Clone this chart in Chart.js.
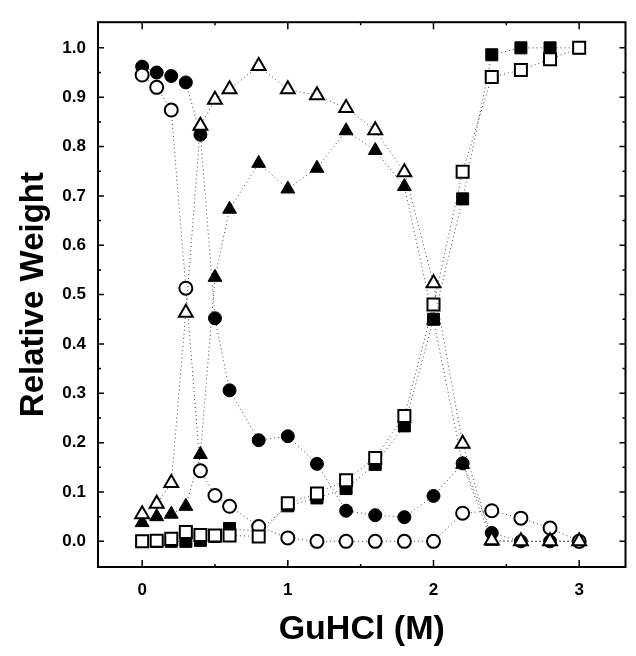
<!DOCTYPE html>
<html>
<head>
<meta charset="utf-8">
<script src="https://cdn.jsdelivr.net/npm/chart.js@4/dist/chart.umd.min.js"></script>
<style>
  html, body { margin: 0; padding: 0; background: #fff; }
  #wrap { width: 636px; height: 656px; }
</style>
</head>
<body>
<div id="wrap"><canvas id="chart"></canvas></div>
<script>
// GuHCl concentration (M)
const conc = [0, 0.1, 0.2, 0.3, 0.4, 0.5, 0.6, 0.8, 1.0, 1.2, 1.4, 1.6, 1.8, 2.0, 2.2, 2.4, 2.6, 2.8, 3.0];

const filledCircle   = [0.962, 0.950, 0.943, 0.930, 0.824, 0.452, 0.306, 0.205, 0.213, 0.157, 0.062, 0.053, 0.049, 0.092, 0.158, 0.017, 0.0, 0.0, 0.0];
const openCircle     = [0.945, 0.920, 0.874, 0.513, 0.143, 0.093, 0.071, 0.030, 0.007, 0.0, 0.0, 0.0, 0.0, 0.0, 0.057, 0.062, 0.047, 0.027, 0.0];
const filledTriangle = [0.038, 0.050, 0.055, 0.071, 0.176, 0.535, 0.673, 0.766, 0.714, 0.756, 0.832, 0.792, 0.719, 0.448, 0.156, 0.0, 0.0, 0.0, 0.0];
const openTriangle   = [0.055, 0.076, 0.118, 0.463, 0.842, 0.895, 0.916, 0.963, 0.916, 0.904, 0.878, 0.833, 0.748, 0.523, 0.198, 0.002, 0.0, 0.0, 0.0];
const filledSquare   = [0.0, 0.0, 0.0, 0.0, 0.002, 0.010, 0.026, 0.020, 0.072, 0.088, 0.107, 0.156, 0.234, 0.450, 0.694, 0.986, 1.0, 1.0, 1.0];
const openSquare     = [0.0, 0.001, 0.005, 0.019, 0.013, 0.012, 0.012, 0.010, 0.077, 0.097, 0.124, 0.169, 0.254, 0.480, 0.749, 0.941, 0.955, 0.977, 1.0];

const xTicks = [0, 1, 2, 3];
const yTicks = [0.0, 0.1, 0.2, 0.3, 0.4, 0.5, 0.6, 0.7, 0.8, 0.9, 1.0];

Chart.defaults.font.family = '"Liberation Sans", Arial, Helvetica, sans-serif';
Chart.defaults.color = '#000';

const toPoints = (vals) => vals.map((v, i) => ({ x: conc[i], y: v }));

function series(vals, style, radius, filled) {
  return {
    data: toPoints(vals),
    showLine: true,
    borderColor: '#444',
    borderWidth: 1,
    borderDash: [1, 3],
    pointStyle: style,
    pointRadius: radius,
    pointBackgroundColor: filled ? '#000' : '#fff',
    pointBorderColor: '#000',
    pointBorderWidth: filled ? 1 : 2
  };
}

// dataset 0 is drawn on top
const datasets = [
  series(openTriangle, 'triangle', 8, false),
  series(openSquare, 'rect', 8.5, false),
  series(openCircle, 'circle', 6.5, false),
  series(filledCircle, 'circle', 6.5, true),
  series(filledSquare, 'rect', 8.5, true),
  series(filledTriangle, 'triangle', 8, true)
];

// frame + inward ticks on all four sides
const frameTicks = {
  id: 'frameTicks',
  afterDraw(chart) {
    const { ctx, chartArea: a, scales: { x, y } } = chart;
    ctx.save();
    ctx.strokeStyle = '#000';
    ctx.lineWidth = 2;
    ctx.strokeRect(a.left, a.top, a.right - a.left, a.bottom - a.top);
    ctx.lineWidth = 1.5;
    ctx.beginPath();
    yTicks.forEach((v, i) => {
      const py = y.getPixelForValue(v);
      ctx.moveTo(a.left, py); ctx.lineTo(a.left + 6, py);
      ctx.moveTo(a.right, py); ctx.lineTo(a.right - 6, py);
      if (i < yTicks.length - 1) {
        const my = y.getPixelForValue((v + yTicks[i + 1]) / 2);
        ctx.moveTo(a.left, my); ctx.lineTo(a.left + 3, my);
        ctx.moveTo(a.right, my); ctx.lineTo(a.right - 3, my);
      }
    });
    xTicks.forEach((v, i) => {
      const px = x.getPixelForValue(v);
      ctx.moveTo(px, a.bottom); ctx.lineTo(px, a.bottom - 7);
      ctx.moveTo(px, a.top); ctx.lineTo(px, a.top + 7);
      if (i < xTicks.length - 1) {
        const mx = x.getPixelForValue((v + xTicks[i + 1]) / 2);
        ctx.moveTo(mx, a.bottom); ctx.lineTo(mx, a.bottom - 3);
        ctx.moveTo(mx, a.top); ctx.lineTo(mx, a.top + 3);
      }
    });
    ctx.stroke();
    ctx.restore();
  }
};

new Chart(document.getElementById('chart'), {
  type: 'scatter',
  data: { datasets },
  options: {
    responsive: true,
    maintainAspectRatio: false,
    animation: false,
    layout: { padding: { top: 13, right: 1, left: 0, bottom: 0 } },
    plugins: { legend: { display: false }, tooltip: { enabled: false } },
    scales: {
      x: {
        type: 'linear',
        min: -0.303,
        max: 3.318,
        afterBuildTicks: (s) => { s.ticks = xTicks.map(v => ({ value: v })); },
        afterFit: (s) => { s.height = 89; },
        grid: { display: false, drawTicks: false },
        border: { display: false },
        ticks: {
          padding: 13,
          font: { size: 17, weight: 'bold' },
          callback: (v) => String(v)
        },
        title: {
          display: true,
          text: 'GuHCl (M)',
          font: { size: 34, weight: 'bold' },
          padding: { top: 0, bottom: 6 }
        }
      },
      y: {
        type: 'linear',
        min: -0.052,
        max: 1.052,
        afterBuildTicks: (s) => { s.ticks = yTicks.map(v => ({ value: v })); },
        afterFit: (s) => { s.width = 98; },
        grid: { display: false, drawTicks: false },
        border: { display: false },
        ticks: {
          padding: 12,
          font: { size: 17, weight: 'bold' },
          callback: (v) => Number(v).toFixed(1)
        },
        title: {
          display: true,
          text: 'Relative Weight',
          font: { size: 33, weight: 'bold' },
          padding: { top: 14, bottom: 0 }
        }
      }
    }
  },
  plugins: [frameTicks]
});
</script>
</body>
</html>
